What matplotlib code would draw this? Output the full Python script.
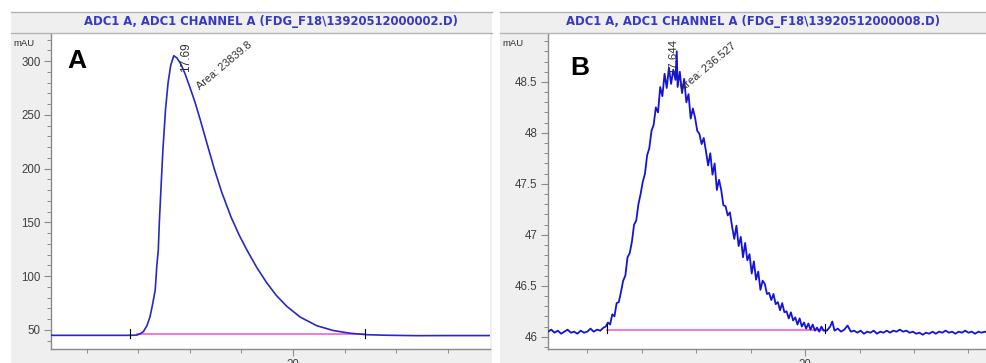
import matplotlib.pyplot as plt
from matplotlib.patches import Rectangle
from matplotlib.lines import Line2D
from matplotlib.ticker import MultipleLocator, FixedLocator

plt.rcParams['font.family'] = ['Liberation Sans', 'DejaVu Sans']

# Run A: smooth FDG peak (minutes, mAU)
rt_a = [15.31, 16.80, 16.97, 17.04, 17.10, 17.17, 17.23, 17.28, 17.33, 17.36,
        17.39, 17.41, 17.44, 17.48, 17.53, 17.58, 17.63, 17.69, 17.75, 17.83,
        17.91, 18.00, 18.10, 18.20, 18.33, 18.48, 18.62, 18.80, 18.96, 19.10,
        19.30, 19.49, 19.68, 19.88, 20.14, 20.46, 20.78, 21.10, 21.43, 21.80,
        22.40, 23.00, 23.82]
mau_a = [45.0, 45.0, 45.2, 46.5, 48.4, 54.0, 62.4, 74.0, 87.0, 109.0,
         124.6, 150.0, 180.0, 218.0, 255.0, 280.0, 296.0, 305.0, 303.0, 297.0,
         288.0, 276.0, 262.0, 246.0, 224.0, 199.0, 178.0, 155.0, 138.0, 125.0,
         108.0, 94.0, 82.0, 72.0, 62.0, 54.0, 49.5, 47.0, 45.6, 45.1,
         44.7, 44.8, 44.8]

# Run B: noisy low-level peak
rt_b = [15.28, 15.34, 15.40, 15.46, 15.52, 15.58, 15.64, 15.70, 15.76, 15.82,
        15.88, 15.94, 16.00, 16.06, 16.12, 16.18, 16.24, 16.30, 16.34, 16.38,
        16.42, 16.46, 16.50, 16.54, 16.58, 16.62, 16.66, 16.70, 16.74, 16.78,
        16.82, 16.86, 16.90, 16.94, 16.98, 17.02, 17.06, 17.10, 17.14, 17.18,
        17.22, 17.26, 17.30, 17.34, 17.38, 17.42, 17.46, 17.50, 17.54, 17.58,
        17.62, 17.644, 17.66, 17.70, 17.74, 17.78, 17.82, 17.86, 17.90, 17.94,
        17.98, 18.02, 18.06, 18.10, 18.14, 18.18, 18.22, 18.26, 18.30, 18.34,
        18.38, 18.42, 18.46, 18.50, 18.54, 18.58, 18.62, 18.66, 18.70, 18.74,
        18.78, 18.82, 18.86, 18.90, 18.94, 18.98, 19.02, 19.06, 19.10, 19.14,
        19.18, 19.22, 19.26, 19.30, 19.34, 19.38, 19.42, 19.46, 19.50, 19.54,
        19.58, 19.62, 19.66, 19.70, 19.74, 19.78, 19.82, 19.86, 19.90, 19.94,
        19.98, 20.02, 20.06, 20.10, 20.14, 20.18, 20.22, 20.26, 20.30, 20.34,
        20.40, 20.46, 20.50, 20.54, 20.60, 20.66, 20.72, 20.78, 20.84, 20.90,
        20.96, 21.02, 21.08, 21.14, 21.20, 21.26, 21.32, 21.38, 21.44, 21.50,
        21.56, 21.62, 21.68, 21.74, 21.80, 21.86, 21.92, 21.98, 22.04, 22.10,
        22.16, 22.22, 22.28, 22.34, 22.40, 22.46, 22.52, 22.58, 22.64, 22.70,
        22.76, 22.82, 22.88, 22.94, 23.00, 23.06, 23.12, 23.18, 23.24, 23.30,
        23.36]
mau_b = [46.05, 46.07, 46.04, 46.06, 46.03, 46.05, 46.07, 46.04, 46.05, 46.03,
         46.06, 46.04, 46.05, 46.08, 46.05, 46.07, 46.06, 46.09, 46.10, 46.14,
         46.12, 46.22, 46.20, 46.33, 46.34, 46.44, 46.55, 46.60, 46.78, 46.82,
         46.93, 47.10, 47.14, 47.30, 47.40, 47.52, 47.60, 47.78, 47.85, 48.02,
         48.08, 48.25, 48.20, 48.45, 48.36, 48.58, 48.44, 48.64, 48.48, 48.62,
         48.52, 48.80, 48.45, 48.60, 48.39, 48.53, 48.30, 48.38, 48.14, 48.24,
         48.15, 48.02, 47.99, 47.89, 47.95, 47.82, 47.68, 47.80, 47.59, 47.70,
         47.44, 47.54, 47.44, 47.29, 47.28, 47.19, 47.22, 47.08, 46.96, 47.09,
         46.89, 46.98, 46.78, 46.92, 46.75, 46.81, 46.62, 46.74, 46.56, 46.64,
         46.46, 46.55, 46.52, 46.42, 46.43, 46.36, 46.42, 46.32, 46.34, 46.26,
         46.33, 46.24, 46.25, 46.18, 46.24, 46.16, 46.19, 46.12, 46.18, 46.10,
         46.14, 46.08, 46.13, 46.07, 46.12, 46.06, 46.09, 46.05, 46.10, 46.06,
         46.06, 46.10, 46.15, 46.06, 46.08, 46.05, 46.07, 46.11, 46.05, 46.06,
         46.04, 46.06, 46.03, 46.05, 46.04, 46.06, 46.03, 46.05, 46.04, 46.06,
         46.04, 46.06, 46.05, 46.07, 46.05, 46.06, 46.04, 46.05, 46.03, 46.04,
         46.02, 46.04, 46.03, 46.05, 46.03, 46.05, 46.04, 46.06, 46.04, 46.05,
         46.03, 46.05, 46.04, 46.06, 46.04, 46.05, 46.03, 46.05, 46.04, 46.05,
         46.04]

titles = ["ADC1 A, ADC1 CHANNEL A (FDG_F18\\13920512000002.D)",
          "ADC1 A, ADC1 CHANNEL A (FDG_F18\\13920512000008.D)"]
panel_tags = ["A", "B"]
peak_rt = ["17.69", "17.644"]
peak_area = ["Area: 23839.8", "Area: 236.527"]
# integration baseline (start, end, level)
base_a = (16.98, 21.40, 46.0)
base_b = (16.37, 20.37, 46.07)
xlims = [(15.31, 23.82), (15.28, 23.34)]
ylims = [(32.3, 325.2), (45.88, 48.97)]

W, H = 987, 363
fig = plt.figure(figsize=(W / 100, H / 100), dpi=100)


def fx(px):
    return px / W


def fy(py):
    return 1 - py / H


gray = '#efefef'
edge = '#b4b4b4'
title_col = '#3838c6'
pink = '#f060e0'

# panel backgrounds and title bars, pixel columns (gray x0, x1, axes x0, x1, title centre)
panels = [(11, 492, 51, 490, 271), (500, 987, 548, 987, 753)]
for (g0, g1, a0, a1, tc), title in zip(panels, titles):
    fig.add_artist(Rectangle((fx(g0), 0), fx(g1) - fx(g0), fy(12),
                             transform=fig.transFigure, fc=gray, ec='none', zorder=0))
    for yy in (12, 33):
        fig.add_artist(Line2D([fx(g0), fx(g1)], [fy(yy), fy(yy)],
                              transform=fig.transFigure, color=edge, lw=1.0))
    fig.text(fx(tc), fy(21), title, ha='center', va='center',
             fontsize=8.4, fontweight='bold', color=title_col,
             family=['DejaVu Sans'])
    fig.text(fx(g0 + 2), fy(43), 'mAU', ha='left', va='center',
             fontsize=6.8, color='#303030')

axes = []
for p in panels:
    ax = fig.add_axes([fx(p[2]), fy(349), fx(p[3]) - fx(p[2]), fy(34) - fy(349)])
    axes.append(ax)

series = [(rt_a, mau_a), (rt_b, mau_b)]
bases = [base_a, base_b]
ymaj = [50, 0.5]
ymin = [10, 0.1]
line_w = [1.2, 1.3]
line_c = ['#2828c8', '#1414d8']
rt_marks = [(17.93, 290.0), (17.58, 48.58)]
area_marks = [(18.22, 272.0), (17.78, 48.39)]
rt_size = [8.5, 8.2]
area_size = [7.8, 8.0]
tag_pos = [(0.037, 0.914), (0.05, 0.892)]

for i, ax in enumerate(axes):
    x, y = series[i]
    ax.plot(x, y, color=line_c[i], lw=line_w[i], zorder=3)
    b0, b1, lvl = bases[i]
    ax.plot([b0, b1], [lvl, lvl], color=pink, lw=1.2, zorder=2)
    ax.set_xlim(*xlims[i])
    ax.set_ylim(*ylims[i])
    for s in ('top', 'right'):
        ax.spines[s].set_visible(False)
    for s in ('left', 'bottom'):
        ax.spines[s].set_color('#8a8a8a')
        ax.spines[s].set_linewidth(1.0)
    ax.xaxis.set_major_locator(FixedLocator([20]))
    ax.xaxis.set_minor_locator(MultipleLocator(1))
    ax.yaxis.set_major_locator(MultipleLocator(ymaj[i]))
    ax.yaxis.set_minor_locator(MultipleLocator(ymin[i]))
    ax.tick_params(axis='both', which='major', length=5, width=0.8,
                   color='#8a8a8a', labelsize=8.3, labelcolor='#404040', pad=2.5)
    ax.tick_params(axis='both', which='minor', length=3, width=0.7,
                   color='#8a8a8a')
    ax.set_yticklabels([('%g' % v) for v in ax.get_yticks()])

    tx, ty = rt_marks[i]
    ax.text(tx, ty, peak_rt[i], rotation=90, ha='center', va='bottom',
            fontsize=rt_size[i], color='#303030', zorder=4)
    axx, axy = area_marks[i]
    ax.text(axx, axy, peak_area[i], rotation=40, ha='left', va='bottom',
            rotation_mode='anchor', fontsize=area_size[i], color='#303030', zorder=4)
    ax.text(tag_pos[i][0], tag_pos[i][1], panel_tags[i], transform=ax.transAxes,
            fontsize=19, fontweight='bold', color='black', ha='left', va='center')

    # integration start / end markers
    span = ylims[i][1] - ylims[i][0]
    for xm in (b0 - 0.14 if i == 0 else b0, b1):
        ax.plot([xm, xm], [lvl - span * 0.012, lvl + span * 0.018],
                color='black', lw=0.8, zorder=4)

fig.savefig('out.png', dpi=100)
